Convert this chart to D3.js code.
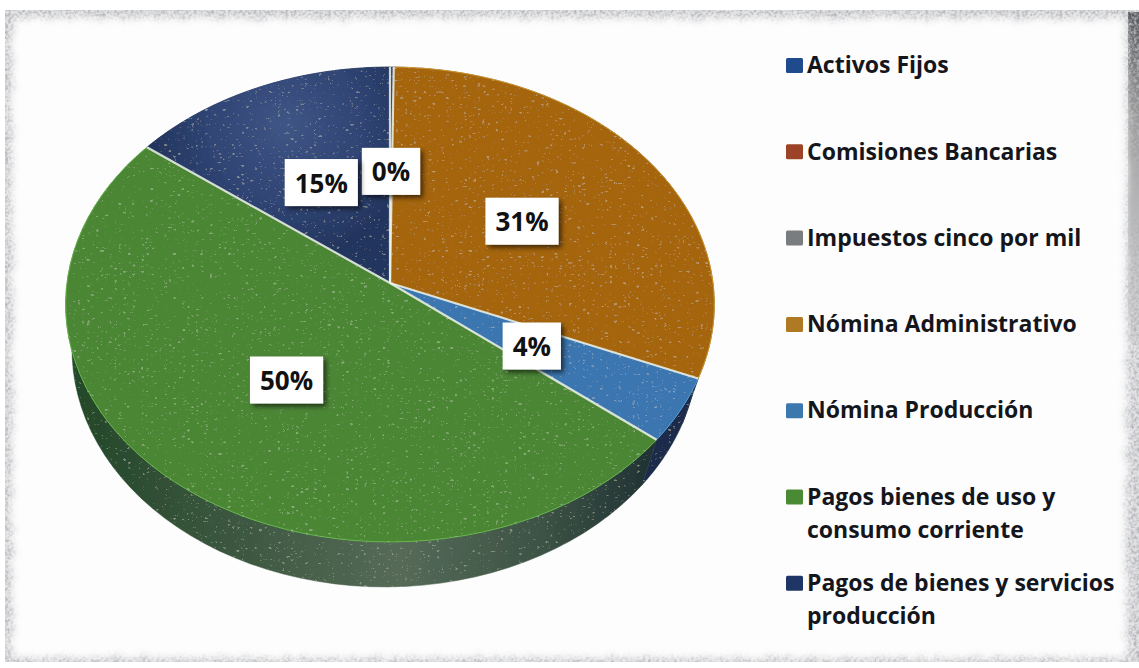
<!DOCTYPE html>
<html><head><meta charset="utf-8">
<script src="https://cdnjs.cloudflare.com/ajax/libs/d3/7.8.5/d3.min.js"></script>
<style>html,body{margin:0;padding:0;background:#fff;overflow:hidden}svg{display:block}
text{font-family:"Open Sans",sans-serif;font-weight:700}</style></head><body>
<script>
const categories=["Activos Fijos","Comisiones Bancarias","Impuestos cinco por mil","Nómina Administrativo","Nómina Producción","Pagos bienes de uso y\nconsumo corriente","Pagos de bienes y servicios\nproducción"];
const values=[0.2,0,0,31.2,4.4,49.6,14.6];
const legendColors=["#1f4a8c","#9c4327","#7a7d80","#b07a25","#3a78ae","#4a8a34","#1f3566"];
const sliceColors=["#2a3f6e","#9c4327","#7a7d80","#a5650f","#3a76b0","#4b8636","url(#navyFace)"];
const rimColors=["#1e2c4a","#3a2018","#444","#1a2236","#1c2c4c","url(#rimGreen)","#1e2c4a"];

const W=1139,H=668;
const svg=d3.select("body").append("svg").attr("width",W).attr("height",H);
const defs=svg.append("defs");

const fe=defs.append("filter").attr("id","rough").attr("x","-5%").attr("y","-5%").attr("width","110%").attr("height","110%");
fe.append("feTurbulence").attr("type","fractalNoise").attr("baseFrequency",0.12).attr("numOctaves",3).attr("seed",4).attr("result","n");
fe.append("feDisplacementMap").attr("in","SourceGraphic").attr("in2","n").attr("scale",12).attr("result","d");
fe.append("feGaussianBlur").attr("in","d").attr("stdDeviation",3.5);

const grain=defs.append("filter").attr("id","grain").attr("x","0").attr("y","0").attr("width","100%").attr("height","100%");
grain.append("feTurbulence").attr("type","fractalNoise").attr("baseFrequency",0.35).attr("numOctaves",2).attr("seed",9).attr("result","t");
grain.append("feColorMatrix").attr("in","t").attr("type","matrix").attr("values","0 0 0 0 0.45  0 0 0 0 0.45  0 0 0 0 0.47  2.6 0 0 0 -1.0").attr("result","g");
grain.append("feComposite").attr("in","g").attr("in2","SourceAlpha").attr("operator","in");

const sp=defs.append("filter").attr("id","speck").attr("x","-2%").attr("y","-2%").attr("width","104%").attr("height","104%");
sp.append("feTurbulence").attr("type","turbulence").attr("baseFrequency","0.22 0.34").attr("numOctaves",2).attr("seed",3).attr("result","t");
sp.append("feColorMatrix").attr("in","t").attr("type","matrix").attr("values","0 0 0 0 0.85  0 0 0 0 0.95  0 0 0 0 0.7  6 0 0 0 -2.9").attr("result","s");
sp.append("feComposite").attr("in","s").attr("in2","SourceAlpha").attr("operator","in").attr("result","c");
sp.append("feComponentTransfer").attr("in","c").attr("result","c2").append("feFuncA").attr("type","linear").attr("slope",0.22);
const spm=sp.append("feMerge");spm.append("feMergeNode").attr("in","SourceGraphic");spm.append("feMergeNode").attr("in","c2");

const sh=defs.append("filter").attr("id","boxShadow").attr("x","-20%").attr("y","-20%").attr("width","150%").attr("height","150%");
sh.append("feDropShadow").attr("dx",3).attr("dy",3).attr("stdDeviation",2.5).attr("flood-color","#000").attr("flood-opacity",0.6);

const rg=defs.append("linearGradient").attr("id","rimGreen").attr("gradientUnits","userSpaceOnUse").attr("x1",80).attr("x2",660).attr("y1",0).attr("y2",0);
[[0,"#24482a"],[0.25,"#3a563e"],[0.55,"#566a58"],[0.8,"#3c5244"],[1,"#1f2f33"]].forEach(s=>rg.append("stop").attr("offset",s[0]).attr("stop-color",s[1]));
const nf=defs.append("radialGradient").attr("id","navyFace").attr("gradientUnits","userSpaceOnUse").attr("cx",285).attr("cy",125).attr("r",130);
[[0,"#3f5585"],[0.6,"#2f4474"],[1,"#24365f"]].forEach(s=>nf.append("stop").attr("offset",s[0]).attr("stop-color",s[1]));
const cg=defs.append("linearGradient").attr("id","cornerDark").attr("x1",0).attr("x2",0).attr("y1",0).attr("y2",1);
[[0,"#55585c",1],[0.3,"#777",0.7],[1,"#999",0.15]].forEach(s=>cg.append("stop").attr("offset",s[0]).attr("stop-color",s[1]).attr("stop-opacity",s[2]));

// background: scanned-paper edge
svg.append("rect").attr("width",W).attr("height",H).attr("fill","#fff");
svg.append("rect").attr("x",5).attr("y",10).attr("width",1134).attr("height",652).attr("fill","#e0e1e3");
svg.append("rect").attr("x",1128).attr("y",12).attr("width",11).attr("height",330).attr("fill","url(#cornerDark)");
svg.append("rect").attr("x",5).attr("y",10).attr("width",1134).attr("height",652).attr("fill","#000").attr("filter","url(#grain)");
svg.append("rect").attr("x",12).attr("y",18).attr("width",1114).attr("height",640).attr("fill","#fdfdfd").attr("filter","url(#rough)");

// pie geometry: a disc seen in perspective, with a smaller lower face
const cx=390,cy=283,A=323,B=235.5,k=0.0905,depth=45,lowerScale=0.965,lowerShift=-5;
function project(angle,r=1){
  const u=r*Math.sin(angle),v=r*Math.cos(angle),w=1+k*v;
  return [cx+A*u/w,cy-B*v/w];
}
function projectLower(angle){
  const p=project(angle);
  return [cx+lowerShift+(p[0]-cx)*lowerScale,p[1]+depth];
}
const arcs=d3.pie().sort(null).startAngle(0).endAngle(2*Math.PI).value(d=>d.value)(
  categories.map((c,i)=>({name:c,value:values[i],color:sliceColors[i],rim:rimColors[i],edge:legendColors[i]})));
const shown=arcs.filter(d=>d.data.value>0);
const steps=d=>d3.range(61).map(i=>d.startAngle+(d.endAngle-d.startAngle)*i/60);
const line=d3.line();

const pieG=svg.append("g").attr("filter","url(#speck)");
pieG.selectAll("path.rim").data(shown).enter().append("path").attr("class","rim")
  .attr("d",d=>{
    const a=steps(d);
    return line(a.map(t=>project(t)).concat(a.slice().reverse().map(projectLower)))+"Z";
  }).attr("fill",d=>d.data.rim).attr("stroke",d=>d.data.rim).attr("stroke-width",0.5);
pieG.selectAll("path.top").data(shown).enter().append("path").attr("class","top")
  .attr("d",d=>line([[cx,cy]].concat(steps(d).map(a=>project(a))))+"Z")
  .attr("fill",d=>d.data.color).attr("stroke",d=>d.data.color).attr("stroke-width",0.5);

// light rim along the top face edge of the front slices
svg.append("g").selectAll("path").data(shown.filter(d=>d.endAngle>Math.PI/2&&d.startAngle<1.5*Math.PI)).enter().append("path")
  .attr("d",d=>line(steps(d).map(a=>project(a)))).attr("fill","none")
  .attr("stroke",d=>d3.color(d.data.edge).brighter(1.3)).attr("stroke-width",1).attr("stroke-opacity",0.55);

// slice separators
svg.append("g").selectAll("line").data(shown).enter().append("line")
  .attr("x1",cx).attr("y1",cy)
  .attr("x2",d=>project(d.endAngle)[0]).attr("y2",d=>project(d.endAngle)[1])
  .attr("stroke","#f0f4ea").attr("stroke-width",2.2).attr("stroke-opacity",0.85);

// labels
const lab=svg.append("g").selectAll("g").data(shown).enter().append("g")
  .attr("transform",d=>{const p=project((d.startAngle+d.endAngle)/2,0.5);return `translate(${p[0]},${p[1]+1})`;});
lab.append("rect").attr("fill","#fff").attr("filter","url(#boxShadow)");
lab.append("text").attr("text-anchor","middle").attr("dominant-baseline","central")
  .attr("font-size",26).attr("fill","#111").text(d=>d3.format(".0f")(d.data.value)+"%");
lab.each(function(){
  const g=d3.select(this),b=g.select("text").node().getBBox();
  g.select("rect").attr("x",-b.width/2-10).attr("width",b.width+20).attr("y",-23.5).attr("height",47);
});

// legend
const legend=svg.append("g").selectAll("g").data(categories).enter().append("g")
  .attr("transform",(d,i)=>`translate(786,${65+i*86.3})`);
legend.append("rect").attr("x",0).attr("y",-7).attr("width",17).attr("height",15).attr("rx",1.5)
  .attr("fill",(d,i)=>legendColors[i]);
legend.each(function(d){
  const g=d3.select(this);
  d.split("\n").forEach((t,j)=>g.append("text").attr("x",21).attr("y",j*33).attr("dy","0.36em")
    .attr("font-size",23).attr("fill","#14161c").text(t));
});
</script></body></html>
